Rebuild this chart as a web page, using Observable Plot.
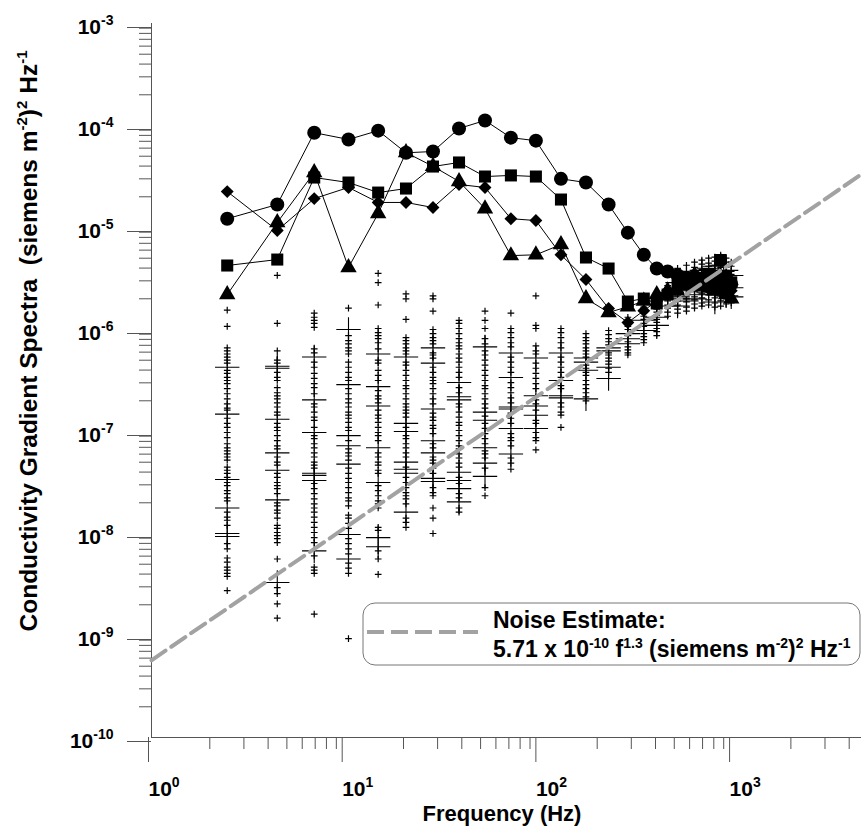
<!DOCTYPE html>
<html><head><meta charset="utf-8">
<script src="https://cdn.jsdelivr.net/npm/d3@7"></script>
<script src="https://cdn.jsdelivr.net/npm/@observablehq/plot@0.6"></script>
<style>
body{margin:0;background:#fff;}
#chart{position:relative;width:861px;height:826px;}
</style></head><body><div id="chart"></div>
<script>
// ---- data ----
const freqs = [2.46, 4.46, 6.92, 10.4, 14.8, 20.6, 28.4, 38.7, 52.7, 71.7, 96.5, 130, 175, 229, 288, 348, 406, 462, 520, 578, 636, 694, 752, 810, 868, 926, 984];

const circleS   = [1.22e-5, 1.68e-5, 8.5e-5, 7.3e-5, 8.9e-5, 5.4e-5, 5.56e-5, 9.35e-5, 1.12e-4, 7.6e-5, 7.1e-5, 3.0e-5, 2.76e-5, 1.68e-5, 8.9e-6, 5.4e-6, 3.96e-6, 3.7e-6, 3.4e-6, 3.2e-6, 3.3e-6, 3.1e-6, 3.0e-6, 3.2e-6, 3.0e-6, 2.9e-6, 2.8e-6];
const squareS   = [4.24e-6, 4.85e-6, 3.09e-5, 2.76e-5, 2.2e-5, 2.41e-5, 3.96e-5, 4.34e-5, 3.16e-5, 3.24e-5, 3.16e-5, 1.88e-5, 5.08e-6, 3.96e-6, 1.88e-6, 2.01e-6, 1.8e-6, 2.2e-6, 2.8e-6, 3.0e-6, 2.7e-6, 3.1e-6, 3.5e-6, 3.0e-6, 4.8e-6, 3.3e-6, 2.9e-6];
const diamondS  = [2.25e-5, 9.35e-6, 1.92e-5, 2.47e-5, 1.76e-5, 1.76e-5, 1.57e-5, 2.64e-5, 2.47e-5, 1.22e-5, 1.17e-5, 5.4e-6, 3.09e-6, 1.61e-6, 1.17e-6, 1.53e-6, 1.9e-6, 2.4e-6, 2.6e-6, 2.9e-6, 3.0e-6, 2.7e-6, 2.5e-6, 2.8e-6, 2.6e-6, 2.5e-6, 2.4e-6];
const triangleS = [2.2e-6, 1.12e-5, 3.46e-5, 4.06e-6, 1.37e-5, 5.43e-5, 3.98e-5, 2.83e-5, 1.53e-5, 5.3e-6, 5.4e-6, 6.8e-6, 2.01e-6, 1.47e-6, 1.67e-6, 1.9e-6, 2.2e-6, 2.4e-6, 2.4e-6, 2.7e-6, 3.4e-6, 2.8e-6, 2.6e-6, 2.4e-6, 2.5e-6, 2.2e-6, 2.0e-6];

// individual spectral estimates (log10 values), one list per frequency column
const crossSmallExp = [
  [-5.81,-5.97,-6.18,-6.21,-6.24,-6.27,-6.30,-6.33,-6.40,-6.43,-6.47,-6.50,-6.53,-6.58,-6.63,-6.68,-6.73,-6.77,-6.79,-6.87,-6.92,-6.96,-7.01,-7.06,-7.12,-7.16,-7.19,-7.22,-7.25,-7.28,-7.35,-7.38,-7.41,-7.45,-7.50,-7.53,-7.58,-7.61,-7.65,-7.68,-7.79,-7.84,-7.87,-7.92,-8.10,-8.15,-8.24,-8.28,-8.33,-8.36,-8.39,-8.42,-8.56],
  [-5.47,-5.94,-6.21,-6.30,-6.33,-6.42,-6.47,-6.50,-6.57,-6.62,-6.65,-6.68,-6.72,-6.76,-6.81,-6.84,-6.92,-6.96,-6.99,-7.04,-7.09,-7.14,-7.17,-7.25,-7.30,-7.33,-7.41,-7.45,-7.50,-7.53,-7.56,-7.61,-7.70,-7.73,-7.77,-7.80,-7.85,-7.92,-7.95,-7.99,-8.02,-8.05,-8.09,-8.25,-8.53,-8.59,-8.69,-8.83],
  [-5.84,-5.88,-5.91,-5.94,-5.98,-6.19,-6.23,-6.32,-6.37,-6.43,-6.48,-6.53,-6.57,-6.63,-6.73,-6.76,-6.81,-6.86,-6.89,-6.96,-7.04,-7.07,-7.12,-7.16,-7.21,-7.25,-7.30,-7.33,-7.36,-7.51,-7.56,-7.61,-7.66,-7.71,-7.75,-7.79,-7.84,-7.89,-7.94,-7.99,-8.04,-8.09,-8.22,-8.33,-8.36,-8.39,-8.79],
  [-5.79,-6.06,-6.11,-6.14,-6.18,-6.21,-6.24,-6.32,-6.37,-6.42,-6.47,-6.50,-6.58,-6.63,-6.68,-6.72,-6.76,-6.81,-6.84,-6.87,-6.91,-6.96,-6.99,-7.09,-7.17,-7.21,-7.24,-7.28,-7.36,-7.41,-7.46,-7.50,-7.55,-7.60,-7.65,-7.68,-7.73,-7.82,-7.85,-7.90,-7.95,-8.05,-8.10,-8.15,-8.20,-8.29,-8.34,-8.39,-9.03],
  [-5.45,-5.54,-5.76,-5.99,-6.03,-6.06,-6.09,-6.13,-6.19,-6.30,-6.33,-6.40,-6.45,-6.50,-6.60,-6.65,-6.68,-6.72,-6.79,-6.84,-6.87,-6.91,-6.96,-7.01,-7.04,-7.09,-7.21,-7.25,-7.30,-7.33,-7.38,-7.41,-7.53,-7.58,-7.63,-7.68,-7.71,-7.75,-7.94,-7.97,-8.17,-8.25,-8.40],
  [-5.65,-5.70,-5.90,-6.08,-6.11,-6.14,-6.18,-6.21,-6.24,-6.32,-6.35,-6.40,-6.45,-6.50,-6.55,-6.58,-6.63,-6.68,-6.73,-6.76,-6.79,-6.82,-6.86,-6.96,-7.04,-7.07,-7.12,-7.16,-7.21,-7.25,-7.35,-7.45,-7.50,-7.55,-7.60,-7.63,-7.66,-7.71,-7.85,-7.89,-7.94],
  [-5.67,-5.70,-5.82,-6.00,-6.04,-6.08,-6.11,-6.14,-6.23,-6.25,-6.28,-6.37,-6.42,-6.47,-6.50,-6.53,-6.58,-6.63,-6.68,-6.73,-6.82,-6.86,-6.89,-6.94,-6.97,-7.02,-7.12,-7.16,-7.25,-7.28,-7.31,-7.36,-7.41,-7.55,-7.60,-7.63,-7.75,-7.85,-8.00],
  [-5.91,-5.94,-5.99,-6.04,-6.09,-6.13,-6.16,-6.19,-6.24,-6.28,-6.32,-6.37,-6.42,-6.47,-6.57,-6.62,-6.73,-6.76,-6.81,-6.86,-6.91,-6.94,-6.99,-7.04,-7.09,-7.14,-7.17,-7.22,-7.26,-7.31,-7.35,-7.45,-7.51,-7.61,-7.65,-7.75,-7.79],
  [-5.82,-5.91,-5.99,-6.09,-6.14,-6.21,-6.25,-6.30,-6.35,-6.40,-6.45,-6.50,-6.55,-6.58,-6.63,-6.68,-6.73,-6.77,-6.85,-6.92,-6.97,-7.02,-7.07,-7.12,-7.19,-7.22,-7.26,-7.36,-7.55,-7.63],
  [-5.84,-5.99,-6.03,-6.08,-6.13,-6.17,-6.27,-6.32,-6.37,-6.42,-6.52,-6.57,-6.62,-6.67,-6.72,-6.82,-6.87,-6.92,-7.02,-7.06,-7.09,-7.14,-7.26,-7.31,-7.37],
  [-5.67,-5.96,-5.99,-6.16,-6.21,-6.24,-6.33,-6.38,-6.43,-6.48,-6.53,-6.58,-6.69,-6.73,-6.79,-6.89,-6.92,-7.01,-7.06,-7.09,-7.18],
  [-5.99,-6.03,-6.08,-6.13,-6.18,-6.27,-6.32,-6.37,-6.42,-6.47,-6.55,-6.58,-6.72,-6.76,-6.81,-6.84,-6.96],
  [-6.04,-6.08,-6.11,-6.14,-6.18,-6.21,-6.24,-6.27,-6.35,-6.38,-6.42,-6.45,-6.50,-6.54,-6.58,-6.62,-6.66,-6.70],
  [-6.01,-6.05,-6.09,-6.12,-6.15,-6.23,-6.25,-6.28,-6.31,-6.34,-6.38,-6.42],
  [-5.88,-5.91,-5.94,-5.97,-6.00,-6.06,-6.12,-6.17,-6.20,-6.23,-6.25],
  [-5.78,-5.81,-5.84,-5.87,-5.90,-5.94,-5.97,-6.04,-6.07,-6.10,-6.13],
  [-5.72,-5.75,-5.77,-5.80,-5.83,-5.86,-5.90,-5.93,-5.99,-6.02,-6.06],
  [-5.57,-5.61,-5.64,-5.68,-5.72,-5.76,-5.79,-5.83,-5.87],
  [-5.40,-5.44,-5.49,-5.52,-5.55,-5.60,-5.64,-5.67,-5.72,-5.76,-5.80,-5.84],
  [-5.37,-5.43,-5.46,-5.50,-5.55,-5.58,-5.61,-5.66,-5.70,-5.73,-5.78,-5.82],
  [-5.34,-5.39,-5.42,-5.47,-5.51,-5.56,-5.59,-5.63,-5.68,-5.71,-5.75,-5.79],
  [-5.32,-5.36,-5.41,-5.45,-5.50,-5.53,-5.57,-5.62,-5.65,-5.69,-5.74,-5.77],
  [-5.30,-5.35,-5.38,-5.42,-5.46,-5.51,-5.54,-5.58,-5.63,-5.66,-5.71,-5.76],
  [-5.29,-5.33,-5.37,-5.42,-5.45,-5.49,-5.54,-5.57,-5.61,-5.66,-5.69,-5.74,-5.78],
  [-5.27,-5.31,-5.36,-5.39,-5.43,-5.48,-5.51,-5.55,-5.60,-5.63,-5.67,-5.72,-5.77],
  [-5.30,-5.34,-5.39,-5.42,-5.46,-5.51,-5.54,-5.58,-5.63,-5.66,-5.70,-5.75],
  [-5.34,-5.38,-5.43,-5.46,-5.50,-5.55,-5.58,-5.62,-5.67,-5.70,-5.74]
];
const crossLargeExp = [
  [-6.37,-6.83,-7.47,-7.75,-8.00,-8.03],
  [-6.36,-6.38,-6.88,-7.21,-7.38,-7.67,-8.48],
  [-6.27,-6.69,-7.01,-7.41,-7.43,-7.48,-8.17],
  [-6.00,-6.54,-7.04,-7.14,-7.32,-8.01,-8.25],
  [-6.24,-6.56,-6.75,-7.16,-7.50,-8.04,-8.13],
  [-6.27,-6.92,-7.00,-7.30,-7.37,-7.41,-7.79],
  [-6.18,-6.33,-6.78,-7.09,-7.21,-7.46,-7.49],
  [-6.52,-6.66,-6.69,-7.40,-7.48,-7.56,-7.69],
  [-6.17,-6.81,-6.89,-7.16,-7.31,-7.44],
  [-6.23,-6.47,-6.76,-6.78,-6.97,-7.22],
  [-6.28,-6.65,-6.75,-6.84,-6.97],
  [-6.23,-6.50,-6.65,-6.67],
  [-6.28,-6.32,-6.40,-6.68],
  [-6.18,-6.21,-6.37,-6.48],
  [-6.04,-6.09,-6.14],
  [-5.91,-6.01],
  [-5.88,-5.96],
  [-5.70,-5.77],
  [-5.54,-5.68,-5.77],
  [-5.48,-5.62,-5.72],
  [-5.44,-5.57,-5.70],
  [-5.42,-5.55,-5.66],
  [-5.40,-5.52,-5.64],
  [-5.38,-5.51,-5.62,-5.73],
  [-5.37,-5.48,-5.60],
  [-5.42,-5.56,-5.67],
  [-5.47,-5.59,-5.68]
];

// noise estimate 5.71e-10 f^1.3, end points
const noiseF = [1, 4630];
const noiseS = [5.71e-10, 3.33e-5];

const yMajor = [1e-10, 1e-9, 1e-8, 1e-7, 1e-6, 1e-5, 1e-4, 1e-3];
const xMajor = [1, 10, 100, 1000];
const minorMult = [2, 3, 4, 5, 6, 7, 8, 9];
const xMinorExtra = [2000, 3000, 4000];

// ---- build tables ----
const yMinor = yMajor.slice(0, -1).flatMap(d => minorMult.map(m => d * m));
const xMinor = xMajor.slice(0, -1).flatMap(d => minorMult.map(m => d * m)).concat(xMinorExtra);
const table = (vals) => vals.map((v, i) => ({f: freqs[i], v}));
const smallRows = crossSmallExp.flatMap((col, i) => col.map(e => ({f: freqs[i], v: Math.pow(10, e)})));
const largeRows = crossLargeExp.flatMap((col, i) => col.map(e => ({f: freqs[i], v: Math.pow(10, e)})));
const series = [
  {sym: "circle", vals: circleS, r: 7},
  {sym: "square", vals: squareS, r: 6.8},
  {sym: "diamond2", vals: diamondS, r: 5.8},
  {sym: "triangle", vals: triangleS, r: 6.1}
];
const noiseRows = noiseF.map((f, i) => ({f, v: noiseS[i]}));
const ff = "'Liberation Sans', Arial, Helvetica, sans-serif";
const expFmt = d => "10^" + Math.round(Math.log10(d));
const axisColor = "#555";

const chart = Plot.plot({
  width: 861, height: 826,
  marginLeft: 151, marginRight: 0, marginTop: 23, marginBottom: 89,
  style: {background: "white", color: "black", fontFamily: ff},
  x: {type: "log", domain: [1, 4630]},
  y: {type: "log", domain: [1e-10, 1e-3]},
  marks: [
    Plot.axisY({ticks: yMinor, tickSize: 12, tickFormat: () => "", stroke: axisColor, label: null}),
    Plot.axisX({ticks: xMinor, tickSize: 12, tickFormat: () => "", stroke: axisColor, label: null}),
    Plot.axisY({ticks: yMajor, tickSize: 24, tickPadding: 14, tickFormat: expFmt, stroke: axisColor,
      fontSize: 21, fontWeight: "bold", dy: 4, label: null}),
    Plot.axisX({ticks: xMajor, tickSize: 25, tickPadding: 19, tickFormat: expFmt, stroke: axisColor,
      fontSize: 20, fontWeight: "bold", textAnchor: "start", dx: -3, label: null}),
    Plot.ruleX([1], {stroke: axisColor}),
    Plot.ruleY([1e-10], {stroke: axisColor}),
    Plot.dot(smallRows, {x: "f", y: "v", symbol: "plus", r: 2.3, stroke: "black", strokeWidth: 1.2, fill: "none"}),
    Plot.dot(largeRows, {x: "f", y: "v", symbol: "plus", r: 7.9, stroke: "black", strokeWidth: 1.1, fill: "none"}),
    ...series.map(s => Plot.line(table(s.vals), {x: "f", y: "v", stroke: "black", strokeWidth: 1})),
    ...series.map(s => Plot.dot(table(s.vals), {x: "f", y: "v", symbol: s.sym, r: s.r, fill: "black", stroke: "none"})),
    Plot.line(noiseRows, {x: "f", y: "v", stroke: "#a2a2a2", strokeWidth: 4, strokeDasharray: "17,7"})
  ]
});
document.getElementById("chart").appendChild(chart);

// ---- superscripts in tick labels ----
const svg = d3.select(chart);
function rich(sel, parts, supSize, shift) {
  sel.text(null);
  let raised = false;
  parts.forEach(([txt, sup]) => {
    const t = sel.append("tspan").text(txt);
    if (sup && !raised) { t.attr("dy", -shift).attr("font-size", supSize); raised = true; }
    else if (sup) { t.attr("font-size", supSize); }
    else if (!sup && raised) { t.attr("dy", shift); raised = false; }
  });
}
svg.selectAll("text").each(function () {
  const s = this.textContent;
  if (s.includes("^")) {
    const [b, e] = s.split("^");
    d3.select(this).attr("font-size", 21).attr("font-weight", "bold");
    rich(d3.select(this), [[b, 0], [e, 1]], 14, 9);
  }
});

// ---- axis titles ----
const yt = svg.append("text")
  .attr("transform", "translate(37,341) rotate(-90)")
  .attr("text-anchor", "middle").attr("font-family", ff)
  .attr("font-size", 24.5).attr("font-weight", "bold").attr("fill", "black");
rich(yt, [["Conductivity Gradient Spectra\u00A0\u00A0(siemens m", 0], ["-2", 1], [")", 0], ["2", 1], [" Hz", 0], ["-1", 1]], 15, 10);

svg.append("text")
  .attr("x", 502).attr("y", 821)
  .attr("text-anchor", "middle").attr("font-family", ff)
  .attr("font-size", 22).attr("font-weight", "bold").attr("fill", "black")
  .text("Frequency (Hz)");

// ---- legend ----
const lg = svg.append("g").attr("font-family", ff).attr("font-weight", "bold").attr("font-size", 23)
  .attr("fill", "black").attr("text-anchor", "start");
lg.append("rect").attr("x", 363).attr("y", 603).attr("width", 497).attr("height", 62)
  .attr("rx", 12).attr("fill", "white").attr("stroke", "#777").attr("stroke-width", 1);
lg.append("line").attr("x1", 367).attr("x2", 478).attr("y1", 632).attr("y2", 632)
  .attr("stroke", "#a2a2a2").attr("stroke-width", 4).attr("stroke-dasharray", "17,7");
lg.append("text").attr("x", 493).attr("y", 628).text("Noise Estimate:");
const l2 = lg.append("text").attr("x", 493).attr("y", 657);
rich(l2, [["5.71 x 10", 0], ["-10", 1], [" f", 0], ["1.3", 1], [" (siemens m", 0], ["-2", 1], [")", 0], ["2", 1], [" Hz", 0], ["-1", 1]], 14, 9);
</script></body></html>
